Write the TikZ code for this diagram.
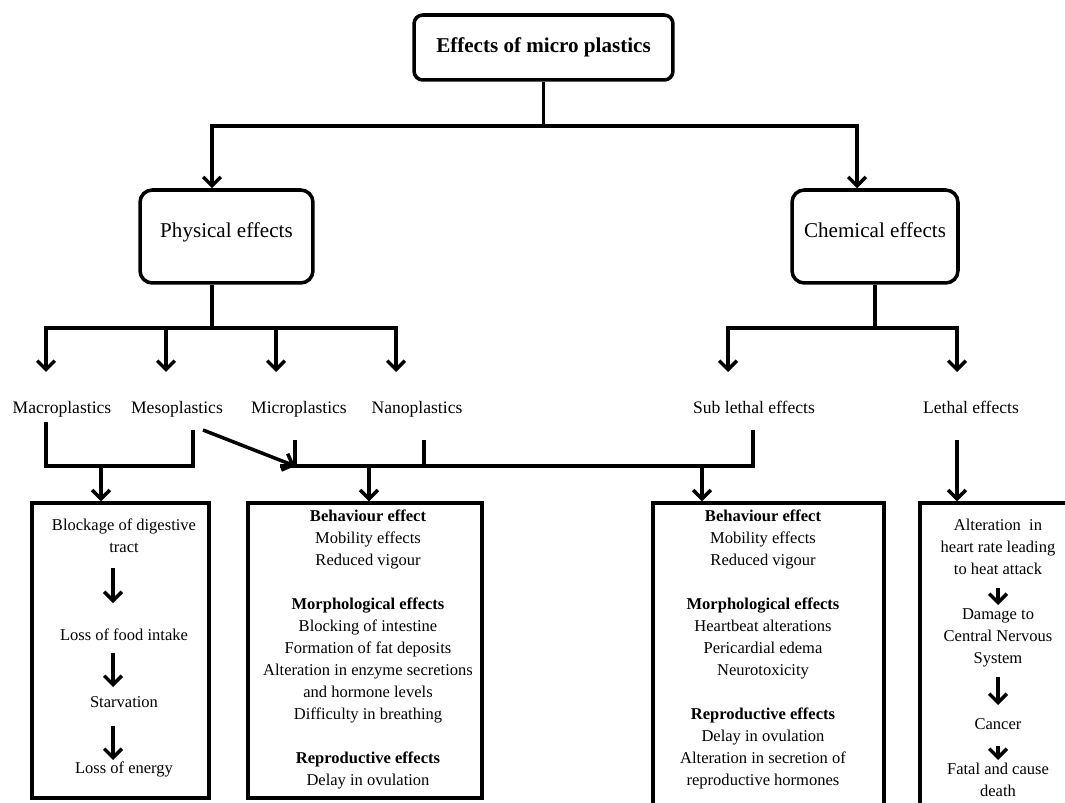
\documentclass[tikz,border=0pt]{standalone}
\usepackage{fontspec}
\setmainfont{Liberation Serif}
\usetikzlibrary{arrows.meta,positioning,calc}

\tikzset{
	conn/.style={line width=2pt},
	arr/.style={conn,-{Straight Barb[length=5pt,width=10pt,line width=2pt]}},
	topbox/.style={draw,line width=2pt,rounded corners=7pt,inner sep=0pt,font=\fontsize{12}{14}\selectfont},
	panel/.style={draw,line width=2pt,inner sep=0pt},
	kind/.style={font=\fontsize{10}{12}\selectfont,inner sep=0pt,anchor=base},
	fx/.style={font=\fontsize{9.4}{12.5}\selectfont,align=center,inner sep=0pt,anchor=north}
}

\begin{document}
\begin{tikzpicture}[x=0.02cm,y=-0.02cm]
		\useasboundingbox (0,0) rectangle (1065,803);
		\clip (0,0) rectangle (1065,803);

		\node[topbox,rounded corners=5pt,minimum width=5.18cm,minimum height=1.3cm,font=\fontsize{12}{14}\selectfont\bfseries] (root) at (543.5,47.5) {Effects of micro plastics};
		\node[topbox,minimum width=3.46cm,minimum height=1.86cm,text height=9pt,text depth=8pt] (phys) at (226.5,236.5) {Physical effects};
		\node[topbox,minimum width=3.32cm,minimum height=1.86cm,text height=9pt,text depth=8pt] (chem) at (875,236.5) {Chemical effects};

		\coordinate (split) at (543.5,126);
		\draw[conn] (root.south) -- (split);
		\draw[arr] (split) -| ($(phys.north)+(-14.5,0)$);
		\draw[arr] (split) -| ($(chem.north)+(-18,0)$);

		\coordinate (pfork) at (212,328);
		\coordinate (macroin) at (46,372);
		\coordinate (mesoin) at (166,372);
		\coordinate (microin) at (276,372);
		\coordinate (nanoin) at (396,372);
		\draw[conn] ($(phys.south)+(-14.5,0)$) -- (pfork);
		\draw[arr] (pfork) -| (macroin);
		\draw[arr] (pfork) -| (mesoin);
		\draw[arr] (pfork) -| (microin);
		\draw[arr] (pfork) -| (nanoin);

		\coordinate (cfork) at (875,328);
		\coordinate (subin) at (728,372);
		\coordinate (lethin) at (957,372);
		\draw[conn] (chem.south) -- (cfork);
		\draw[arr] (cfork) -| (subin);
		\draw[arr] (cfork) -| (lethin);

		\node[kind] (macro) at (62,414) {Macroplastics};
		\node[kind] (meso) at (177,414) {Mesoplastics};
		\node[kind] (micro) at (299,414) {Microplastics};
		\node[kind] (nano) at (417,414) {Nanoplastics};
		\node[kind] (sub) at (754,414) {Sub lethal effects};
		\node[kind] (lethal) at (971,414) {Lethal effects};

		\node[panel,minimum width=3.54cm,minimum height=5.9cm] (b1) at (120.5,650.5) {};
		\node[panel,minimum width=4.68cm,minimum height=5.9cm] (b2) at (365,650.5) {};
		\node[panel,minimum width=4.62cm,minimum height=7cm] (b3) at (768.5,678) {};
		\node[panel,minimum width=4cm,minimum height=7cm] (b4) at (1020,678) {};

		\coordinate (macroout) at (46,422);
		\coordinate (mesoout) at (193,430);
		\coordinate (lfork) at (101,466);
		\draw[conn] (macroout) |- (lfork) -| (mesoout);
		\draw[arr] (lfork) -- (lfork |- b1.north);

		\coordinate (mesodiag) at (203,430);
		\coordinate (barstart) at (280,466);
		\coordinate (microout) at (295,440);
		\coordinate (nanoout) at (424,440);
		\coordinate (subout) at (753,430);
		\coordinate (mfork) at (369,466);
		\coordinate (sfork) at (702,466);
		\coordinate (lethout) at (957,440);
		\draw[conn] (barstart) -| (subout);
		\draw[conn] (microout) -- (microout |- mfork);
		\draw[conn] (nanoout) -- (nanoout |- mfork);
		\draw[arr] (mesodiag) -- (microout |- mfork);
		\draw[arr] (mfork) -- (mfork |- b2.north);
		\draw[arr] (sfork) -- (sfork |- b3.north);
		\draw[arr] (lethout) -- (lethout |- b4.north);

		\node[fx] (blockage) at (124,519) {Blockage of digestive\\tract};
		\node[fx] (foodloss) at (124,629) {Loss of food intake};
		\node[fx] (starve) at (124,696) {Starvation};
		\node[fx] (energy) at (124,762) {Loss of energy};
		\draw[arr,shorten <=0.3cm,shorten >=0.52cm] ([xshift=-0.22cm]blockage.south) -- ([xshift=-0.22cm]foodloss.north);
		\draw[arr,shorten <=0.24cm,shorten >=0.18cm] ([xshift=-0.22cm]foodloss.south) -- ([xshift=-0.22cm]starve.north);
		\draw[arr,shorten <=0.36cm,shorten >=0.04cm] ([xshift=-0.22cm]starve.south) -- ([xshift=-0.22cm]energy.north);

		\node[fx] (b2txt) at (368,510) {\textbf{Behaviour effect}\\Mobility effects\\Reduced vigour\\[12.5pt]
			\textbf{Morphological effects}\\Blocking of intestine\\Formation of fat deposits\\Alteration in enzyme secretions\\and hormone levels\\Difficulty in breathing\\[12.5pt]
			\textbf{Reproductive effects}\\Delay in ovulation};

		\node[fx] (b3txt) at (763,510) {\textbf{Behaviour effect}\\Mobility effects\\Reduced vigour\\[12.5pt]
			\textbf{Morphological effects}\\Heartbeat alterations\\Pericardial edema\\Neurotoxicity\\[12.5pt]
			\textbf{Reproductive effects}\\Delay in ovulation\\Alteration in secretion of\\reproductive hormones};

		\node[fx] (heart) at (998,519) {Alteration\ \ in\\heart rate leading\\to heat attack};
		\node[fx] (cns) at (998,608) {Damage to\\Central Nervous\\System};
		\node[fx] (cancer) at (998,718) {Cancer};
		\node[fx] (fatal) at (998,763) {Fatal and cause\\death};
		\draw[arr,shorten <=0.26cm,shorten >=0.06cm] (heart.south) -- (cns.north);
		\draw[arr,shorten <=0.2cm,shorten >=0.26cm] (cns.south) -- (cancer.north);
		\draw[arr,shorten <=0.32cm,shorten >=0.06cm] (cancer.south) -- (fatal.north);
\end{tikzpicture}
\end{document}
